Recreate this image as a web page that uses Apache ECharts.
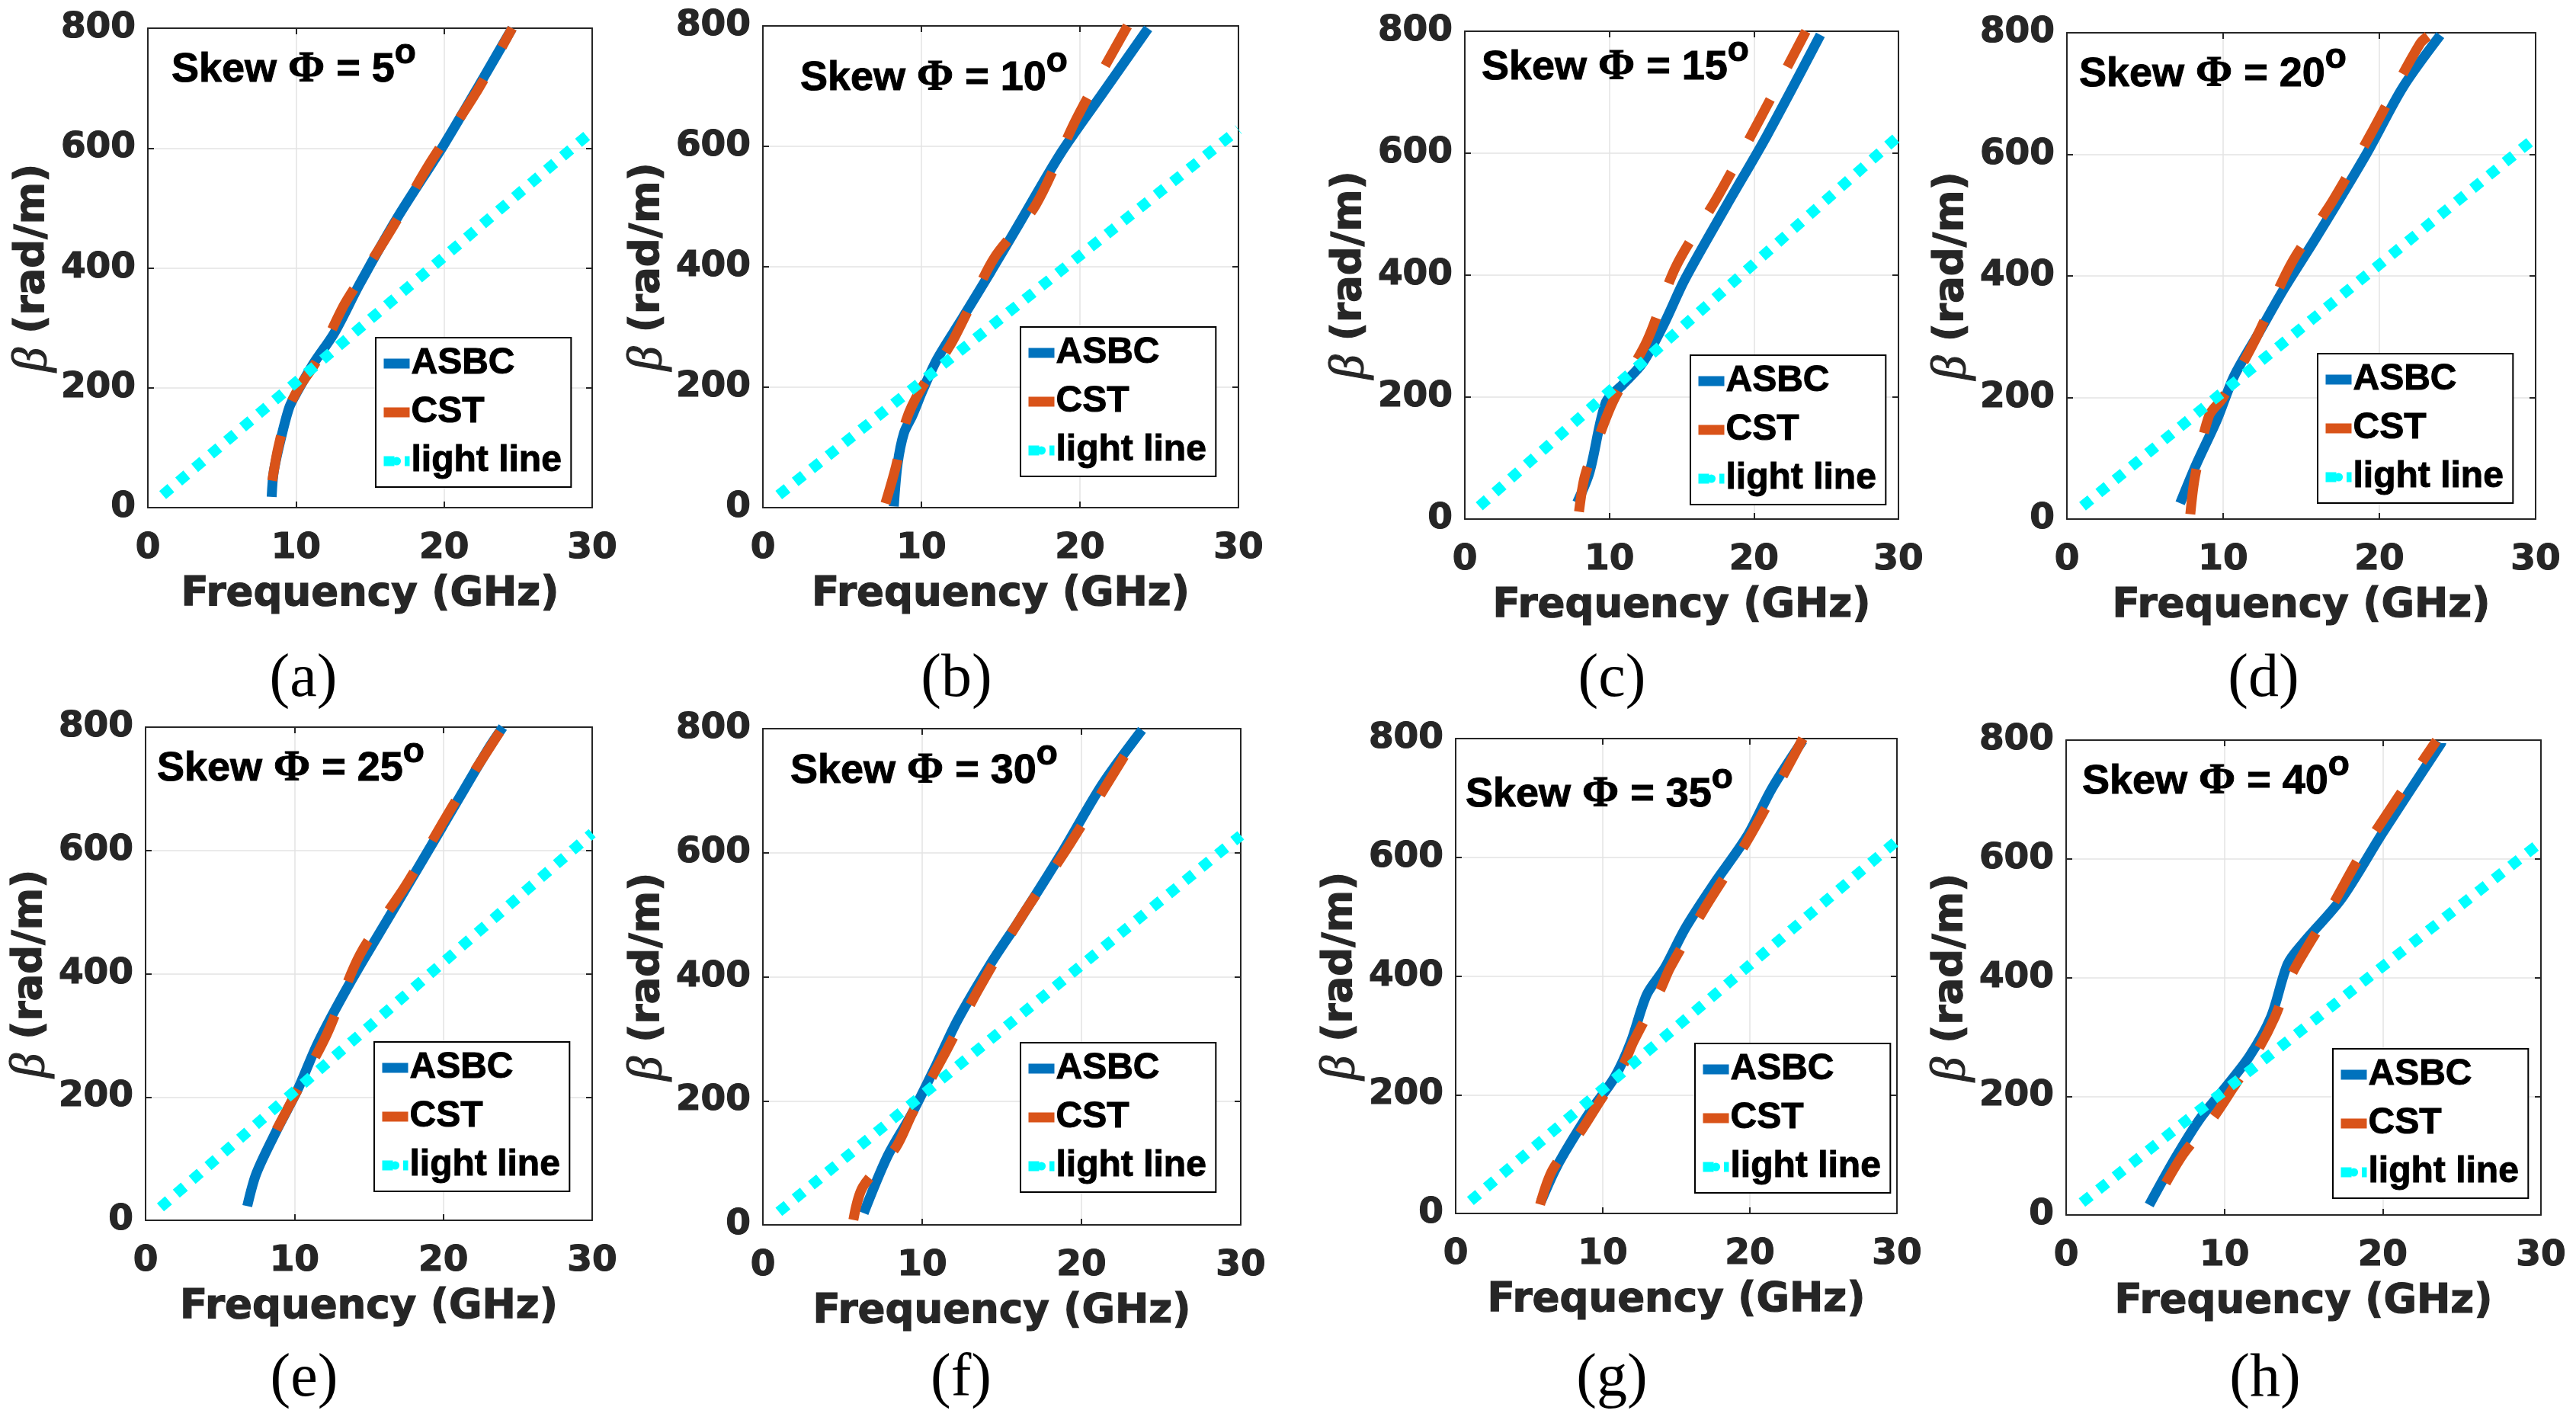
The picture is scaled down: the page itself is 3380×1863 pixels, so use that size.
<!DOCTYPE html>
<html>
<head>
<meta charset="utf-8">
<script src="https://cdn.jsdelivr.net/npm/echarts@6/dist/echarts.min.js"></script>
<style>
  html, body { margin: 0; background: #fff; }
  #chart { width: 3380px; height: 1863px; }
</style>
</head>
<body>
<div id="chart"></div>
<script>
// ---- data (frequency GHz, beta rad/m) ----
const skewAngles = [5, 10, 15, 20, 25, 30, 35, 40];
const panelLetters = ['a', 'b', 'c', 'd', 'e', 'f', 'g', 'h'];
const seriesNames = ['ASBC', 'CST', 'light line'];

const lightF = [1, 30];
const lightBeta = [21, 628];

const asbc5 = [[8.36,18],[8.5,60],[9.0,117],[9.56,168],[10.1,194],[11.2,241],[12.6,292],[14.3,373],[16.8,482],[20.0,606],[22.7,719],[24.6,800]];
const cst5 = [[8.4,45],[8.8,100],[9.5,165],[10.2,200],[11.4,245],[13.2,336],[14.3,380],[16.5,467],[19.0,573],[22.1,690],[24.6,800]];

const asbc10 = [[8.26,2],[8.5,73],[8.9,124],[9.43,153],[10.1,196],[11.0,247],[12.55,313],[14.4,393],[16.2,473],[18.8,589],[21.4,687],[24.3,796]];
const cst10 = [[7.73,7],[8.4,69],[9.04,145],[9.95,196],[11.8,269],[12.8,320],[14.6,415],[17.2,502],[19.8,647],[23.0,800]];

const asbc15 = [[7.77,27],[8.63,77],[9.77,192],[10.9,220],[12.3,256],[13.8,321],[15.2,392],[18.1,514],[20.9,629],[24.6,794]];
const cst15 = [[7.9,12],[8.3,70],[9.2,130],[10.3,195],[12.6,292],[14.6,414],[17.5,529],[20.3,651],[23.6,800]];

const asbc20 = [[7.25,26],[8.3,91],[9.6,163],[10.7,235],[12.3,307],[13.9,379],[16.0,465],[19.2,602],[21.5,710],[23.9,796]];
const cst20 = [[7.9,8],[8.2,70],[9.1,170],[10.0,200],[12.0,292],[14.4,422],[17.0,523],[19.4,631],[22.6,782],[23.4,800]];

const asbc25 = [[6.83,23],[7.44,76],[8.83,147],[10.2,211],[11.6,289],[13.8,388],[16.6,502],[19.9,637],[23.0,764],[24.0,800]];
const cst25 = [[8.8,147],[10.2,211],[12.2,303],[14.4,431],[17.5,544],[20.8,679],[24.0,800]];

const asbc30 = [[6.33,19],[7.83,111],[9.39,181],[10.9,259],[12.2,329],[14.3,421],[16.1,491],[18.7,597],[21.3,710],[23.8,798]];
const cst30 = [[5.68,8],[6.27,61],[8.35,125],[9.4,181],[11.5,280],[13.5,378],[16.1,491],[19.2,611],[22.6,752],[23.8,800]];

const asbc35 = [[5.8,20],[6.7,70],[7.42,103],[9.1,170],[10.8,229],[11.9,288],[13.0,369],[14.2,413],[15.6,480],[17.5,553],[19.8,635],[21.5,716],[23.6,797]];
const cst35 = [[5.74,15],[6.6,74],[8.55,140],[9.7,185],[11.4,251],[12.1,290],[13.9,376],[14.6,415],[17.0,517],[19.8,627],[22.9,767],[23.6,800]];

const asbc40 = [[5.25,17],[6.95,98],[8.51,164],[10.1,216],[11.6,268],[12.95,334],[14.0,423],[15.0,459],[17.4,533],[20.0,644],[23.7,795]];
const cst40 = [[6.3,54],[7.47,105],[9.3,164],[10.6,216],[12.2,282],[13.2,334],[14.3,408],[16.6,511],[18.96,622],[23.4,799]];

const asbcAll = [asbc5, asbc10, asbc15, asbc20, asbc25, asbc30, asbc35, asbc40];
const cstAll = [cst5, cst10, cst15, cst20, cst25, cst30, cst35, cst40];

// ---- layout (pixels): left, top, width, height ----
const plotBoxes = [
  [194, 37, 583, 629], [1001, 34, 624, 632], [1922, 41, 569, 640], [2712, 43, 615, 638],
  [191, 954, 586, 647], [1001, 956, 627, 651], [1910, 969, 579, 623], [2711, 971, 623, 623]
];
const legendPos = [
  [493, 443], [1339, 429], [2218, 466], [3041, 464],
  [491, 1367], [1339, 1368], [2224, 1369], [3061, 1376]
];
const skewPos = [
  [225, 62], [1050, 73], [1944, 59], [2728, 68],
  [206, 979], [1037, 982], [1923, 1013], [2732, 996]
];
const captionPos = [
  [398, 892], [1255, 892], [2115, 892], [2970, 892],
  [399, 1810], [1261, 1810], [2115, 1810], [2972, 1810]
];

const dark = '#262626';
const font = 'DejaVu Sans';
const textFont = 'Liberation Sans';

const grid = [], xAxis = [], yAxis = [], series = [], legend = [], title = [], graphic = [];

plotBoxes.forEach((b, i) => {
  grid.push({ left: b[0], top: b[1], width: b[2], height: b[3], containLabel: false });

  xAxis.push({
    type: 'value', gridIndex: i, min: 0, max: 30, interval: 10,
    name: 'Frequency (GHz)', nameLocation: 'middle', nameGap: 88,
    nameTextStyle: { fontSize: 53, fontWeight: 'bold', fontFamily: font, color: dark, textBorderColor: dark, textBorderWidth: 1.2 },
    axisLine: { show: true, lineStyle: { color: dark, width: 2 } },
    axisTick: { show: true, inside: true, length: 8, lineStyle: { color: dark, width: 2 } },
    axisLabel: { fontSize: 47, fontWeight: 'bold', fontFamily: font, color: dark, margin: 30, textBorderColor: dark, textBorderWidth: 1.2 },
    splitLine: { show: true, lineStyle: { color: '#e3e3e3', width: 1.5 } }
  });
  xAxis.push({
    type: 'value', gridIndex: i, min: 0, max: 30, interval: 10, position: 'top',
    axisLine: { show: true, onZero: false, lineStyle: { color: dark, width: 2 } },
    axisTick: { show: true, inside: true, length: 8, lineStyle: { color: dark, width: 2 } },
    axisLabel: { show: false }, splitLine: { show: false }
  });
  yAxis.push({
    type: 'value', gridIndex: i, min: 0, max: 800, interval: 200,
    name: '{g|β} (rad/m)', nameLocation: 'middle', nameGap: 110,
    nameTextStyle: {
      fontSize: 53, fontWeight: 'bold', fontFamily: font, color: dark, textBorderColor: dark, textBorderWidth: 1.2,
      rich: { g: { fontSize: 64, fontStyle: 'italic', fontWeight: 'normal', fontFamily: 'Liberation Serif', color: dark } }
    },
    axisLine: { show: true, lineStyle: { color: dark, width: 2 } },
    axisTick: { show: true, inside: true, length: 8, lineStyle: { color: dark, width: 2 } },
    axisLabel: { fontSize: 47, fontWeight: 'bold', fontFamily: font, color: dark, margin: 16, textBorderColor: dark, textBorderWidth: 1.2 },
    splitLine: { show: true, lineStyle: { color: '#e3e3e3', width: 1.5 } }
  });
  yAxis.push({
    type: 'value', gridIndex: i, min: 0, max: 800, interval: 200, position: 'right',
    axisLine: { show: true, onZero: false, lineStyle: { color: dark, width: 2 } },
    axisTick: { show: true, inside: true, length: 8, lineStyle: { color: dark, width: 2 } },
    axisLabel: { show: false }, splitLine: { show: false }
  });

  const xi = 2 * i, yi = 2 * i;
  series.push({
    name: 'ASBC', type: 'line', xAxisIndex: xi, yAxisIndex: yi,
    data: asbcAll[i], showSymbol: false, symbol: 'none', smooth: 0.3,
    lineStyle: { color: '#0072BD', width: 13 }, itemStyle: { color: '#0072BD' }
  });
  series.push({
    name: 'CST', type: 'line', xAxisIndex: xi, yAxisIndex: yi,
    data: cstAll[i], showSymbol: false, symbol: 'none', smooth: 0.3,
    lineStyle: { color: '#D95319', width: 13, type: [60, 48], cap: 'butt' }, itemStyle: { color: '#D95319' }
  });
  series.push({
    name: 'light line', type: 'line', xAxisIndex: xi, yAxisIndex: yi,
    data: lightF.map((f, k) => [f, lightBeta[k]]), showSymbol: false, symbol: 'none',
    lineStyle: { color: '#00FFFF', width: 14, type: [14, 13.5], cap: 'butt' }, itemStyle: { color: '#00FFFF' }
  });

  legend.push({
    data: seriesNames, orient: 'vertical',
    left: legendPos[i][0], top: legendPos[i][1],
    padding: [7, 12, 7, 4], itemGap: 10, itemWidth: 34, itemHeight: 14,
    backgroundColor: '#fff', borderColor: '#000', borderWidth: 2, borderRadius: 0,
    lineStyle: { width: 13 },
    textStyle: { fontSize: 48, fontWeight: 'bold', fontFamily: textFont, color: '#000', lineHeight: 54, padding: [0, 0, 0, -3], textBorderColor: '#000', textBorderWidth: 1 }
  });

  title.push({
    text: 'Skew {p|Φ} = ' + skewAngles[i] + '{d|o}',
    left: skewPos[i][0], top: skewPos[i][1], padding: 0,
    textStyle: {
      fontSize: 54, fontWeight: 'bold', fontFamily: textFont, color: '#000', lineHeight: 60,
      textBorderColor: '#000', textBorderWidth: 1,
      rich: {
        p: { fontSize: 58, fontWeight: 'bold', fontFamily: 'Liberation Serif', color: '#000', lineHeight: 60 },
        d: { fontSize: 46, fontWeight: 'bold', fontFamily: textFont, color: '#000', verticalAlign: 'top', height: 16, lineHeight: 16 }
      }
    }
  });

  graphic.push({
    type: 'text', x: captionPos[i][0], y: captionPos[i][1],
    style: {
      text: '(' + panelLetters[i] + ')', fill: '#000',
      font: '80px "Liberation Serif"', align: 'center', verticalAlign: 'middle'
    }
  });
});

const chart = echarts.init(document.getElementById('chart'), null, { renderer: 'canvas' });
chart.setOption({
  backgroundColor: '#fff',
  animation: false,
  grid: grid,
  xAxis: xAxis,
  yAxis: yAxis,
  series: series,
  legend: legend,
  title: title,
  graphic: graphic
});
</script>
</body>
</html>
